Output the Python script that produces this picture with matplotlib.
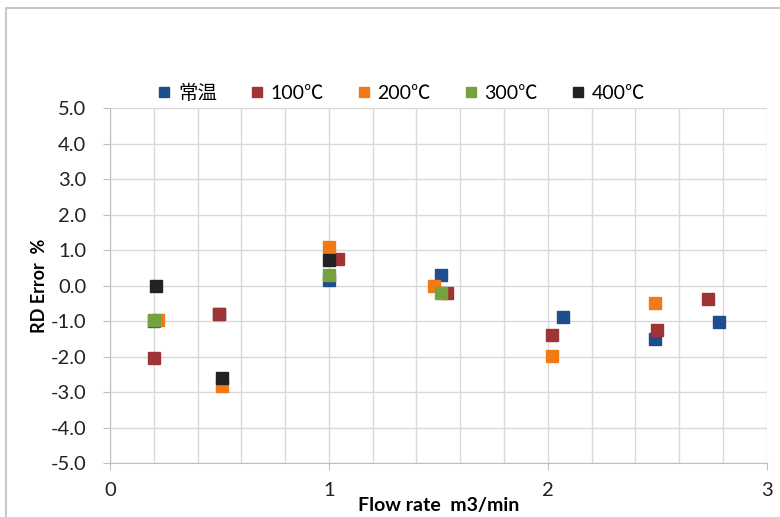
import matplotlib
matplotlib.use("Agg")
import matplotlib.pyplot as plt
from matplotlib.lines import Line2D
from matplotlib.ticker import MultipleLocator

plt.rcParams['font.family'] = ['Lato', 'Noto Sans CJK JP', 'DejaVu Sans']

labels = ['常温', '100℃', '200℃', '300℃', '400℃']
colors = ['#1f4e8c', '#9e3436', '#f07a14', '#77a03e', '#222222']

# flow rate (m3/min) and RD error (%) for each temperature
x_rt = [0.2, 0.5, 1.0, 1.51, 2.07, 2.49, 2.78]
y_rt = [-1.0, -0.8, 0.17, 0.3, -0.89, -1.5, -1.03]
x_100 = [0.2, 0.5, 1.04, 1.54, 2.02, 2.5, 2.73]
y_100 = [-2.04, -0.8, 0.75, -0.21, -1.39, -1.25, -0.37]
x_200 = [0.22, 0.51, 1.0, 1.48, 2.02, 2.49]
y_200 = [-0.97, -2.83, 1.08, 0.0, -1.98, -0.48]
x_300 = [0.2, 1.0, 1.51]
y_300 = [-0.98, 0.3, -0.21]
x_400 = [0.21, 0.51, 1.0]
y_400 = [0.0, -2.6, 0.72]

xs = [x_rt, x_100, x_200, x_300, x_400]
ys = [y_rt, y_100, y_200, y_300, y_400]

fig = plt.figure(figsize=(7.8, 5.17), dpi=100)
ax = fig.add_axes([0.141, 0.1044, 0.842, 0.6866])

for x, y, c, lab in zip(xs, ys, colors, labels):
    ax.plot(x, y, linestyle='none', marker='s', markersize=8.8,
            color=c, markeredgecolor=c, label=lab, zorder=3)

ax.set_xlim(0, 3)
ax.set_ylim(-5, 5)
ax.xaxis.set_major_locator(MultipleLocator(1))
ax.xaxis.set_minor_locator(MultipleLocator(0.2))
ax.yaxis.set_major_locator(MultipleLocator(1))
ax.yaxis.set_major_formatter(lambda v, p: f"{v:.1f}")
ax.grid(True, which='both', axis='x', color='#d9d9d9', linewidth=1)
ax.grid(True, which='major', axis='y', color='#d9d9d9', linewidth=1)
ax.set_axisbelow(True)

for s in ['top', 'right']:
    ax.spines[s].set_visible(False)
for s in ['left', 'bottom']:
    ax.spines[s].set_color('#bfbfbf')
ax.tick_params(which='major', length=5, color='#bfbfbf', labelsize=14.5,
               labelcolor='#222222')
ax.tick_params(axis='y', pad=12)
ax.tick_params(axis='x', pad=9)
ax.tick_params(which='minor', length=0)

ax.set_xlabel('Flow rate  m3/min', fontsize=14, fontweight='bold', labelpad=-2)
ax.set_ylabel('RD Error  %', fontsize=13, fontweight='bold', labelpad=2)

ax.legend(loc='center', bbox_to_anchor=(0.515, 0.820),
          bbox_transform=fig.transFigure, ncol=5, frameon=False,
          fontsize=14, handlelength=0.6, handletextpad=0.4,
          columnspacing=1.75, markerscale=0.85)

# outer chart border (top and left visible)
fig.add_artist(Line2D([0.008, 0.008, 1.0], [0.0, 0.985, 0.985],
                      transform=fig.transFigure, color='#c8c8c8', linewidth=1.5))

fig.savefig('out.png', dpi=100)
